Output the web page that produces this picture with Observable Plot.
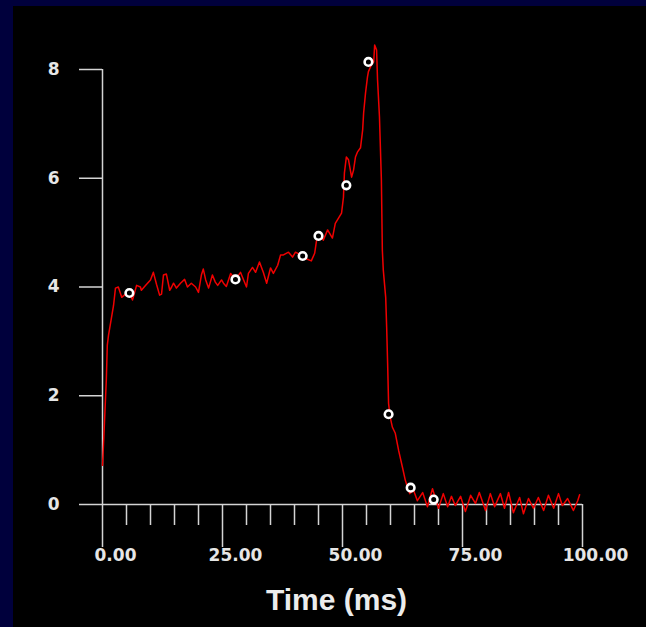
<!DOCTYPE html>
<html>
<head>
<meta charset="utf-8">
<script src="https://cdn.jsdelivr.net/npm/d3@7"></script>
<script src="https://cdn.jsdelivr.net/npm/@observablehq/plot@0.6"></script>
<style>
  html, body { margin: 0; padding: 0; background: #00003c; width: 646px; height: 627px; overflow: hidden; }
  #panel { position: absolute; left: 13px; top: 6px; width: 633px; height: 621px; background: #000; }
  #title { position: absolute; left: 0; width: 646px; top: 585px; text-align: center; padding-left: 27px; box-sizing: border-box;
           font: bold 30px "Liberation Sans", Arial, sans-serif; line-height: 30px; color: #ececec; }
</style>
</head>
<body>
<div id="panel"></div>
<div id="title">Time (ms)</div>
<script>
// Signal trace (time in ms, value)
const times = [0, 0.1, 0.4, 0.8, 1.0, 1.25, 2.3, 2.7, 3.3, 4.0, 4.8, 5.6, 6.25, 7.1, 7.9, 8.1, 9.0, 10.0, 10.6, 11.25, 11.9, 12.3, 12.7, 13.3, 14.0, 14.4, 14.8, 15.4, 16.25, 17.1, 17.7, 18.5, 19.4, 20.0, 20.6, 21.0, 21.5, 22.1, 22.9, 23.5, 24.0, 24.8, 25.2, 25.8, 26.7, 27.7, 28.75, 29.4, 30.0, 30.4, 31.25, 31.9, 32.7, 33.5, 34.2, 35.0, 35.6, 36.5, 37.1, 37.7, 38.75, 39.6, 40.2, 41.7, 42.7, 43.5, 44.2, 44.6, 45.4, 46.0, 46.9, 47.9, 48.5, 49.2, 49.8, 50.2, 50.4, 50.8, 51.25, 51.9, 52.3, 52.7, 53.1, 53.75, 54.2, 54.4, 54.8, 55.2, 55.4, 56.0, 56.5, 56.7, 57.1, 57.3, 57.7, 58.1, 58.3, 58.5, 59.0, 59.2, 59.4, 59.6, 59.9, 60.4, 61.0, 61.7, 62.5, 63.1, 64.0, 64.8, 65.6, 66.7, 67.7, 68.75, 70.0, 71.0, 71.9, 72.7, 73.5, 74.6, 75.6, 76.7, 77.7, 78.5, 79.8, 80.8, 81.7, 82.9, 83.75, 84.6, 85.6, 86.9, 87.7, 88.75, 89.8, 90.8, 91.9, 92.9, 94.0, 95.0, 95.8, 96.9, 98.1, 99.0, 99.4];
const values = [0.72, 0.9, 1.49, 2.30, 2.93, 3.11, 3.66, 3.98, 4.00, 3.81, 3.87, 3.89, 3.76, 4.03, 4.00, 3.94, 4.03, 4.13, 4.27, 4.05, 3.85, 3.87, 4.22, 4.24, 3.94, 4.00, 4.07, 3.98, 4.07, 4.14, 4.00, 4.07, 4.00, 3.90, 4.22, 4.33, 4.13, 3.98, 4.22, 4.09, 4.03, 4.13, 4.07, 4.01, 4.25, 4.14, 4.27, 4.13, 4.00, 4.25, 4.36, 4.27, 4.46, 4.27, 4.07, 4.35, 4.25, 4.40, 4.59, 4.59, 4.64, 4.55, 4.64, 4.57, 4.51, 4.48, 4.62, 4.86, 4.99, 4.86, 5.05, 4.90, 5.17, 5.27, 5.36, 5.65, 6.10, 6.39, 6.34, 6.02, 6.15, 6.39, 6.48, 6.56, 6.89, 7.20, 7.57, 7.86, 7.96, 8.08, 8.14, 8.45, 8.36, 7.81, 7.13, 5.97, 4.68, 4.31, 3.81, 3.26, 2.60, 1.86, 1.62, 1.42, 1.31, 0.99, 0.68, 0.44, 0.20, 0.26, 0.07, 0.22, -0.04, 0.29, -0.07, 0.20, -0.04, 0.15, -0.02, 0.15, -0.13, 0.17, 0.02, 0.22, -0.11, 0.20, -0.04, 0.20, -0.07, 0.22, -0.15, 0.13, -0.17, 0.11, -0.07, 0.13, -0.11, 0.17, -0.07, 0.20, -0.02, 0.11, -0.11, 0.07, 0.18];

// Marked points
const markerTimes = [5.6, 27.7, 41.7, 45.0, 50.8, 55.4, 59.6, 64.2, 69.0];
const markerValues = [3.89, 4.14, 4.57, 4.94, 5.87, 8.14, 1.66, 0.31, 0.09];

// Axis ticks
const xMajorTicks = [0, 25, 50, 75, 100];
const xMinorTicks = [5, 10, 15, 20, 30, 35, 40, 45, 55, 60, 65, 70, 80, 85, 90, 95];
const yTicks = [0, 2, 4, 6, 8];

const trace = times.map((t, i) => ({t, v: values[i]}));
const markers = markerTimes.map((t, i) => ({t, v: markerValues[i]}));

const axisColor = "#d4d4d4";
const fmtX = d3.format(".2f");

const chart = Plot.plot({
  width: 633,
  height: 621,
  marginLeft: 89,
  marginRight: 64,
  marginTop: 63,
  marginBottom: 123,
  style: {background: "transparent", color: axisColor, fontFamily: "'DejaVu Sans', sans-serif", fontSize: "17px", fontWeight: "bold", overflow: "visible"},
  x: {domain: [0, 100]},
  y: {domain: [0, 8]},
  marks: [
    Plot.axisX(xMinorTicks, {tickSize: 21, tickFormat: () => "", label: null, stroke: axisColor, strokeWidth: 1.5}),
    Plot.axisX(xMajorTicks, {tickSize: 43, tickFormat: () => "", label: null, stroke: axisColor, strokeWidth: 1.5}),
    Plot.axisY(yTicks, {tickSize: 23, tickFormat: () => "", label: null, stroke: axisColor, strokeWidth: 1.5}),
    Plot.ruleY([0], {stroke: axisColor, strokeWidth: 1.5}),
    Plot.ruleX([0], {y1: 0, y2: 8, stroke: axisColor, strokeWidth: 1.5}),
    Plot.text(xMajorTicks, {x: d => d, frameAnchor: "bottom", dy: 56, dx: 13, text: d => fmtX(d), fill: "#e6e6e6"}),
    Plot.text(yTicks, {y: d => d, frameAnchor: "left", dx: -43, textAnchor: "end", text: d => String(d), fill: "#e6e6e6"}),
    Plot.line(trace, {x: "t", y: "v", stroke: "#f00000", strokeWidth: 1.5}),
    Plot.dot(markers, {x: "t", y: "v", r: 3.8, fill: "#000", stroke: "#fff", strokeWidth: 2.6})
  ]
});
document.getElementById("panel").appendChild(chart);
</script>
</body>
</html>
